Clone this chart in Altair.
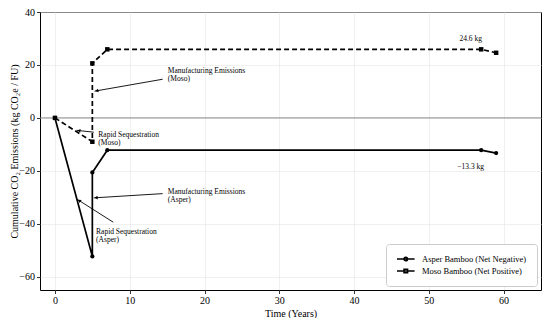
import math
import altair as alt
import pandas as pd

# ---------------- data ----------------
asper_t = [0, 5, 5, 7, 57, 59]
asper_v = [0, -52.3, -20.6, -12.2, -12.2, -13.3]
moso_t = [0, 5, 5, 7, 57, 59]
moso_v = [0, -9.0, 20.6, 25.9, 25.9, 24.6]
series_names = ["Asper Bamboo (Net Negative)", "Moso Bamboo (Net Positive)"]

x_ticks = [0, 10, 20, 30, 40, 50, 60]
y_ticks = [-60, -40, -20, 0, 20, 40]

ann_text = ["Manufacturing Emissions\n(Moso)", "Rapid Sequestration\n(Moso)",
            "Manufacturing Emissions\n(Asper)", "Rapid Sequestration\n(Asper)"]
ann_tx = [15.1, 5.8, 15.1, 5.5]
ann_ty = [17.6, -6.5, -27.8, -43.1]
arr_x0 = [14.4, 5.2, 14.4, 7.8]
arr_y0 = [14.6, -5.4, -28.6, -39.4]
arr_x1 = [5.3, 2.9, 5.2, 3.0]
arr_y1 = [10.1, -4.7, -30.2, -30.8]

val_text = ["24.6 kg", "\u221213.3 kg"]
val_x = [55.6, 55.6]
val_y = [29.8, -18.6]

# ---------------- layout ----------------
X_DOMAIN = [-2, 65]
Y_DOMAIN = [-65, 40]
W, H = 501, 278
FONT = "Liberation Serif, Times New Roman, serif"

sx = W / (X_DOMAIN[1] - X_DOMAIN[0])
sy = H / (Y_DOMAIN[1] - Y_DOMAIN[0])

xs = alt.Scale(domain=X_DOMAIN, nice=False, zero=False)
ys = alt.Scale(domain=Y_DOMAIN, nice=False, zero=False)
x_axis = alt.Axis(values=x_ticks, title="Time (Years)", titlePadding=3)
y_axis = alt.Axis(values=y_ticks, title="Cumulative CO\u2082 Emissions (kg CO\u2082e / FU)",
                  titleX=-21, titleY=H / 2, titleAngle=270, titleBaseline="bottom",
                  titleAlign="center")


def X(f):
    return alt.X(f, type="quantitative", scale=xs, axis=x_axis)


def Y(f):
    return alt.Y(f, type="quantitative", scale=ys, axis=y_axis)


rows = []
for i, (t, v) in enumerate(zip(asper_t, asper_v)):
    rows.append({"t": t, "v": v, "series": series_names[0], "i": i})
for i, (t, v) in enumerate(zip(moso_t, moso_v)):
    rows.append({"t": t, "v": v, "series": series_names[1], "i": i})
df = pd.DataFrame(rows)
asper_df = df[df.series == series_names[0]]
moso_df = df[df.series == series_names[1]]

ann_df = pd.DataFrame({"text": ann_text, "x": ann_tx, "y": ann_ty})
arr_rows = []
for x0, y0, x1, y1 in zip(arr_x0, arr_y0, arr_x1, arr_y1):
    dxp = (x1 - x0) * sx
    dyp = -(y1 - y0) * sy
    L = math.hypot(dxp, dyp)
    ang = math.degrees(math.atan2(dxp, -dyp)) % 360
    back = 2.2
    hx = x1 - (dxp / L) * back / sx
    hy = y1 + (dyp / L) * back / sy
    arr_rows.append({"x0": x0, "y0": y0, "x1": x1, "y1": y1, "hx": hx, "hy": hy, "ang": ang})
arr_df = pd.DataFrame(arr_rows)
val_df = pd.DataFrame({"text": val_text, "x": val_x, "y": val_y})

# ---------------- marks ----------------
zero_line = alt.Chart(pd.DataFrame({"y": [0]})).mark_rule(
    color="#7f7f7f", strokeWidth=0.9
).encode(y=Y("y"))

asper_line = alt.Chart(asper_df).mark_line(color="black", strokeWidth=1.7).encode(
    x=X("t"), y=Y("v"), order="i:Q")
moso_line = alt.Chart(moso_df).mark_line(color="black", strokeWidth=1.7,
                                          strokeDash=[5, 3]).encode(
    x=X("t"), y=Y("v"), order="i:Q")
asper_pts = alt.Chart(asper_df).mark_point(shape="circle", filled=True, color="black",
                                           size=18, opacity=1).encode(x=X("t"), y=Y("v"))
moso_pts = alt.Chart(moso_df).mark_point(shape="square", filled=True, color="black",
                                         size=20, opacity=1).encode(x=X("t"), y=Y("v"))

# legend symbols: line with marker (path units: 1 = 4 px at symbolSize 64)
circ_path = "M-1,0H3.4M1.65,0A0.45,0.45 0 1,1 0.75,0A0.45,0.45 0 1,1 1.65,0Z"
sq_path = "M-1,0H3.4M0.75,-0.45H1.65V0.45H0.75Z"
legend_layer = alt.Chart(df).transform_filter("false").mark_point(
    filled=False, color="black", strokeWidth=1.5, opacity=1
).encode(
    x=X("t"), y=Y("v"),
    shape=alt.Shape("series:N",
                    scale=alt.Scale(domain=series_names, range=[circ_path, sq_path]),
                    legend=alt.Legend(title=None, orient="bottom-right", offset=4,
                                      padding=10, strokeColor="#cccccc", fillColor="white",
                                      cornerRadius=3, labelFont=FONT, labelFontSize=8.5,
                                      labelColor="black", symbolSize=64,
                                      symbolStrokeWidth=1.5, symbolStrokeColor="black",
                                      labelOffset=16, rowPadding=2)),
)

arrows = alt.Chart(arr_df).mark_rule(color="black", strokeWidth=0.9).encode(
    x=X("x0"), y=Y("y0"), x2="x1", y2="y1")
heads = alt.Chart(arr_df).mark_point(shape="triangle-up", filled=True, color="black",
                                     size=14, opacity=1).encode(
    x=X("hx"), y=Y("hy"), angle=alt.Angle("ang:Q", scale=None))
ann = alt.Chart(ann_df).mark_text(align="left", baseline="middle", font=FONT, fontSize=7.5,
                                  lineBreak="\n", lineHeight=8, color="black").encode(
    x=X("x"), y=Y("y"), text="text:N")
vals = alt.Chart(val_df).mark_text(align="center", baseline="middle", font=FONT,
                                   fontSize=7.5, color="black").encode(
    x=X("x"), y=Y("y"), text="text:N")

chart = alt.layer(
    zero_line, asper_line, moso_line, asper_pts, moso_pts, arrows, heads, ann, vals,
    legend_layer
).properties(
    width=W, height=H,
    autosize=alt.AutoSizeParams(type="none"),
    padding={"left": 32, "top": 4, "right": 1, "bottom": 28},
).configure_view(
    stroke="black", strokeWidth=1
).configure_axis(
    grid=True, gridColor="#e6e6e6", gridWidth=0.6, domain=False,
    tickColor="black", tickSize=3.5, tickWidth=0.8,
    labelFont=FONT, labelFontSize=10, labelColor="black", labelPadding=2,
    titleFont=FONT, titleFontSize=10, titleFontWeight="normal", titleColor="black",
)

chart.save("out.html", embed_options={"renderer": "svg", "actions": False})
